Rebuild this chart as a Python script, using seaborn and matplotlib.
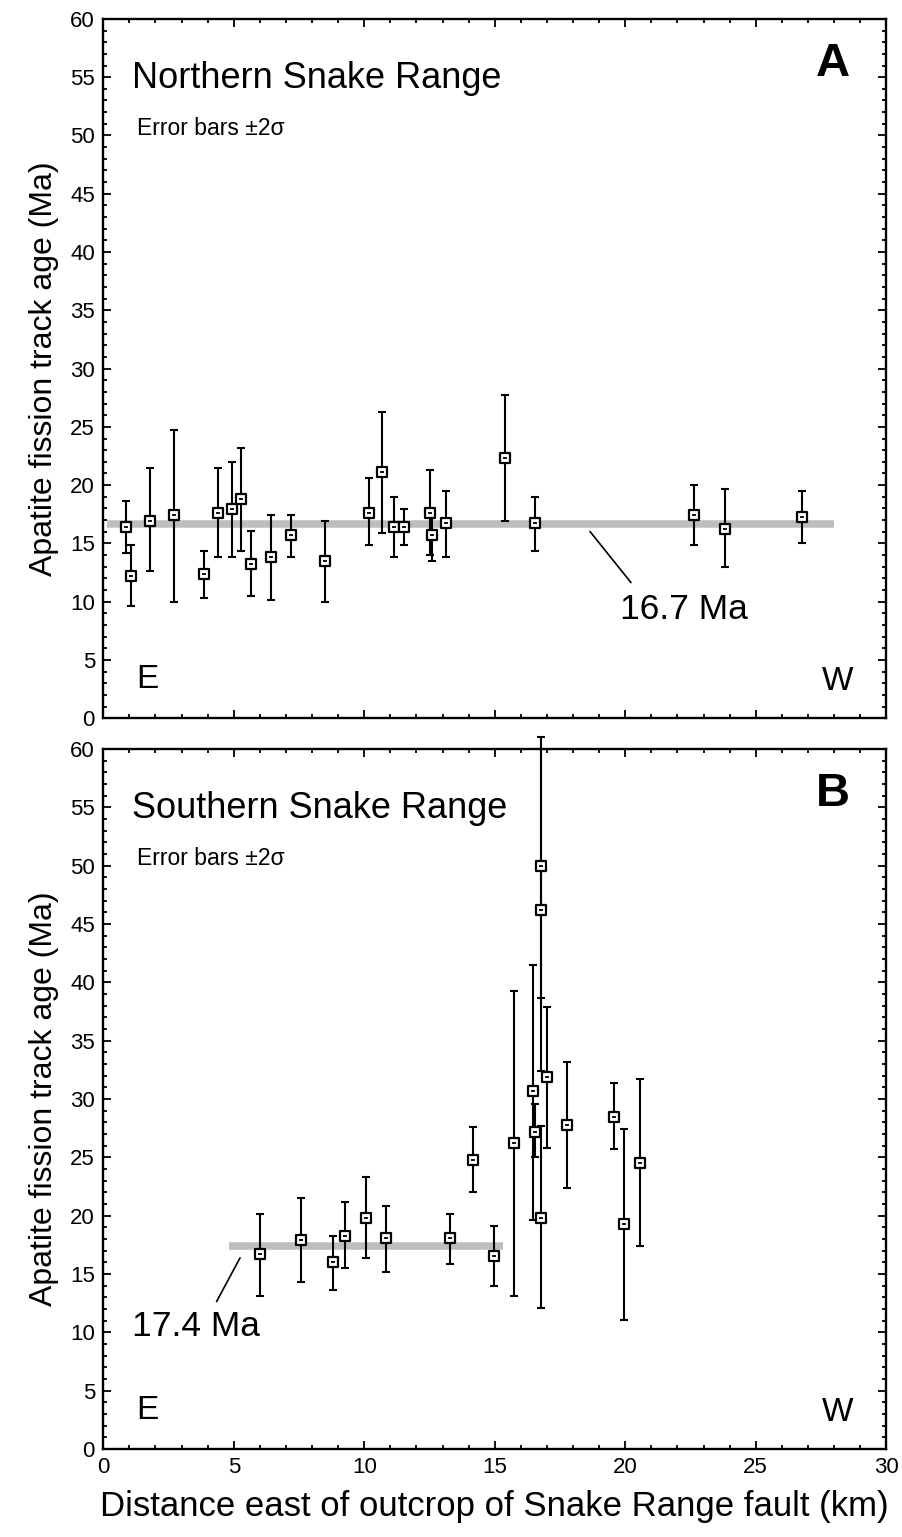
import numpy as np
import pandas as pd
import seaborn as sns
import matplotlib
import matplotlib.pyplot as plt
from matplotlib.ticker import MultipleLocator

matplotlib.use("agg")

# Panel A - Northern Snake Range
north_dist = [0.86, 1.07, 1.79, 2.71, 3.86, 4.41, 4.94, 5.26, 5.65, 6.41, 7.18, 8.51,
              10.19, 10.67, 11.13, 11.51, 12.51, 12.58, 13.14, 15.39, 16.54, 22.63, 23.82, 26.76]
north_age = [16.45, 12.2, 16.9, 17.45, 12.4, 17.6, 17.95, 18.85, 13.25, 13.8, 15.7, 13.45,
             17.6, 21.1, 16.4, 16.4, 17.6, 15.7, 16.75, 22.3, 16.75, 17.45, 16.25, 17.3]
north_low = [14.2, 9.65, 12.6, 10.0, 10.3, 13.8, 13.8, 14.35, 10.5, 10.15, 13.8, 10.0,
             14.9, 15.9, 13.8, 14.9, 14.0, 13.5, 13.8, 16.9, 14.35, 14.9, 12.95, 15.05]
north_high = [18.65, 14.9, 21.45, 24.75, 14.35, 21.45, 21.95, 23.2, 16.1, 17.45, 17.45, 16.9,
              20.6, 26.3, 19.0, 17.95, 21.3, 17.95, 19.5, 27.7, 19.0, 20.0, 19.7, 19.5]
north_mean = 16.7
north_mean_span = (0.15, 28.0)

# Panel B - Southern Snake Range
south_dist = [6.02, 7.57, 8.81, 9.26, 10.05, 10.82, 13.30, 14.15, 14.98, 15.74, 16.46, 16.55,
              16.76, 16.76, 16.76, 17.01, 17.77, 19.56, 19.94, 20.56]
south_age = [16.7, 17.9, 16.0, 18.25, 19.8, 18.1, 18.1, 24.8, 16.55, 26.2, 30.7, 27.2,
             50.0, 46.2, 19.8, 31.9, 27.75, 28.45, 19.3, 24.5]
south_low = [13.1, 14.3, 13.6, 15.5, 16.35, 15.15, 15.85, 22.05, 13.95, 13.1, 19.6, 25.0,
             38.7, 32.4, 12.1, 25.8, 22.4, 25.7, 11.1, 17.4]
south_high = [20.15, 21.5, 18.25, 21.2, 23.3, 20.85, 20.15, 27.6, 19.15, 39.3, 41.5, 29.6,
              61.0, 60.0, 27.7, 37.9, 33.2, 31.35, 27.4, 31.7]
south_mean = 17.4
south_mean_span = (4.83, 15.33)

sns.set_style("ticks")
plt.rcParams["font.family"] = ["Liberation Sans", "DejaVu Sans"]
plt.rcParams.update({
    "xtick.direction": "in", "ytick.direction": "in",
    "xtick.top": True, "ytick.right": True,
    "xtick.minor.visible": True, "ytick.minor.visible": True,
    "text.color": "black", "axes.labelcolor": "black", "axes.edgecolor": "black",
    "xtick.color": "black", "ytick.color": "black",
})

fig = plt.figure(figsize=(9.02, 15.37), dpi=100)
ax_a = fig.add_axes([0.1145, 0.5327, 0.868, 0.455])
ax_b = fig.add_axes([0.1145, 0.0572, 0.868, 0.4554])


def draw_panel(ax, dist, age, low, high, mean, span, title, letter):
    df = pd.DataFrame({"dist": dist, "age": age, "low": low, "high": high})
    ax.hlines(mean, span[0], span[1], color="#bdbdbd", lw=5.4, zorder=1)
    yerr = np.vstack([df["age"] - df["low"], df["high"] - df["age"]])
    ax.errorbar(df["dist"], df["age"], yerr=yerr, fmt="none", ecolor="black",
                elinewidth=1.5, capsize=3.2, capthick=1.5, zorder=2, clip_on=False)
    sns.scatterplot(data=df, x="dist", y="age", marker="s", s=58, facecolor="white",
                    edgecolor="black", linewidth=1.6, zorder=3, ax=ax, clip_on=False)
    sns.scatterplot(data=df, x="dist", y="age", marker="_", s=6, color="black",
                    linewidth=1.3, zorder=4, ax=ax, clip_on=False)
    ax.set_xlim(0, 30)
    ax.set_ylim(0, 60)
    ax.xaxis.set_major_locator(MultipleLocator(5))
    ax.xaxis.set_minor_locator(MultipleLocator(1))
    ax.yaxis.set_major_locator(MultipleLocator(5))
    ax.yaxis.set_minor_locator(MultipleLocator(1))
    ax.tick_params(which="major", length=6, width=1.3, labelsize=16, pad=6)
    ax.tick_params(which="minor", length=3.2, width=1.3)
    for sp in ax.spines.values():
        sp.set_linewidth(1.7)
    ax.set_ylabel("Apatite fission track age (Ma)", fontsize=23, labelpad=8)
    ax.text(1.09, 54.1, title, fontsize=26)
    ax.text(1.28, 50.06, "Error bars \u00b12\u03c3", fontsize=16.5)
    ax.text(28.6, 55.1, letter, fontsize=34, fontweight="bold", ha="right")
    ax.text(1.28, 2.6, "E", fontsize=24)
    ax.text(28.76, 2.4, "W", fontsize=24, ha="right")


draw_panel(ax_a, north_dist, north_age, north_low, north_high, north_mean,
           north_mean_span, "Northern Snake Range", "A")
ax_a.plot([18.65, 20.22], [16.02, 11.64], color="black", lw=1.2)
ax_a.text(19.8, 8.5, "16.7 Ma", fontsize=25.5)
ax_a.set_xlabel("")
ax_a.tick_params(labelbottom=False)

draw_panel(ax_b, south_dist, south_age, south_low, south_high, south_mean,
           south_mean_span, "Southern Snake Range", "B")
ax_b.plot([5.24, 4.34], [16.39, 12.64], color="black", lw=1.2)
ax_b.text(1.09, 9.68, "17.4 Ma", fontsize=25.5)
ax_b.set_xlabel("Distance east of outcrop of Snake Range fault (km)", fontsize=25, labelpad=8)

fig.savefig("out.png", dpi=100)
